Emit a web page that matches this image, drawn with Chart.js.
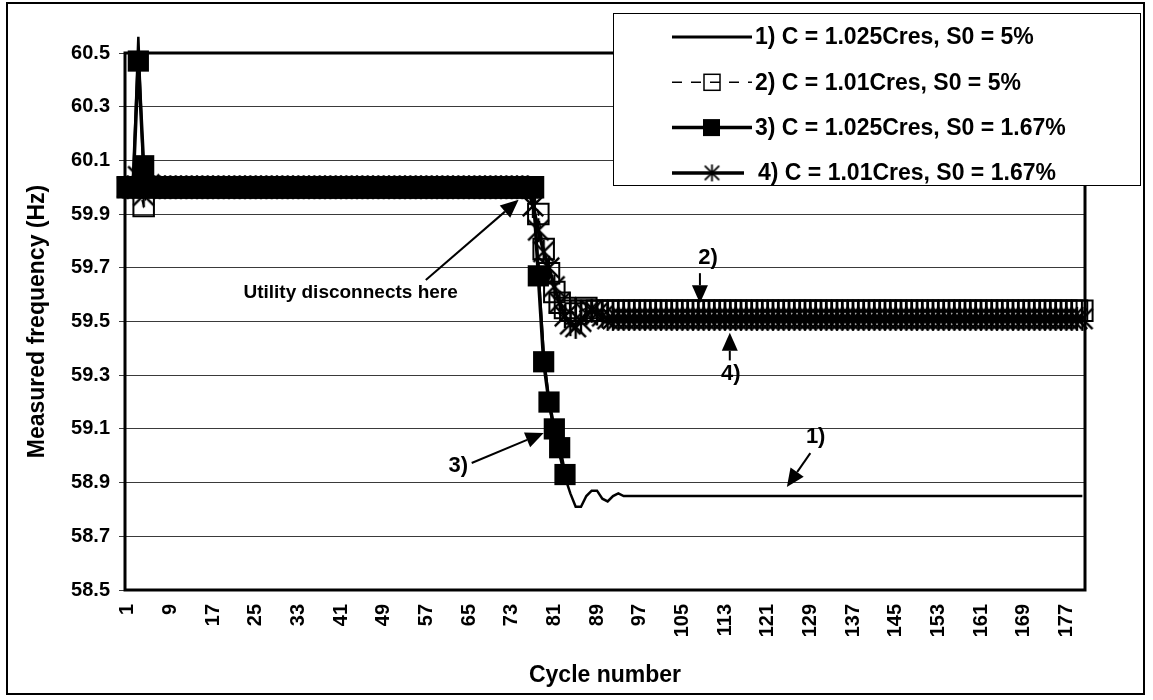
<!DOCTYPE html>
<html>
<head>
<meta charset="utf-8">
<script src="https://cdn.jsdelivr.net/npm/chart.js@4.4.1/dist/chart.umd.min.js"></script>
<style>
  html, body { margin: 0; padding: 0; background: #fff; }
  #wrap { width: 1153px; height: 700px; }
</style>
</head>
<body>
<div id="wrap"><canvas id="chart" width="1153" height="700"></canvas></div>
<script>
// ---------------------------------------------------------------------------
// Data
// ---------------------------------------------------------------------------
const seriesNames = [
  '1) C = 1.025Cres, S0 = 5%',
  '2) C = 1.01Cres, S0 = 5%',
  '3) C = 1.025Cres, S0 = 1.67%',
  '4) C = 1.01Cres, S0 = 1.67%',
];

const freq1 = [
  60, 60, 60.56, 60.02, 60, 60, 60, 60, 60, 60,
  60, 60, 60, 60, 60, 60, 60, 60, 60, 60,
  60, 60, 60, 60, 60, 60, 60, 60, 60, 60,
  60, 60, 60, 60, 60, 60, 60, 60, 60, 60,
  60, 60, 60, 60, 60, 60, 60, 60, 60, 60,
  60, 60, 60, 60, 60, 60, 60, 60, 60, 60,
  60, 60, 60, 60, 60, 60, 60, 60, 60, 60,
  60, 60, 60, 60, 60, 60, 60, 59.70, 59.38, 59.20,
  59.08, 59.00, 58.92, 58.86, 58.81, 58.81, 58.85, 58.87, 58.87, 58.84,
  58.83, 58.85, 58.86, 58.85, 58.85, 58.85, 58.85, 58.85, 58.85, 58.85,
  58.85, 58.85, 58.85, 58.85, 58.85, 58.85, 58.85, 58.85, 58.85, 58.85,
  58.85, 58.85, 58.85, 58.85, 58.85, 58.85, 58.85, 58.85, 58.85, 58.85,
  58.85, 58.85, 58.85, 58.85, 58.85, 58.85, 58.85, 58.85, 58.85, 58.85,
  58.85, 58.85, 58.85, 58.85, 58.85, 58.85, 58.85, 58.85, 58.85, 58.85,
  58.85, 58.85, 58.85, 58.85, 58.85, 58.85, 58.85, 58.85, 58.85, 58.85,
  58.85, 58.85, 58.85, 58.85, 58.85, 58.85, 58.85, 58.85, 58.85, 58.85,
  58.85, 58.85, 58.85, 58.85, 58.85, 58.85, 58.85, 58.85, 58.85, 58.85,
  58.85, 58.85, 58.85, 58.85, 58.85, 58.85, 58.85, 58.85, 58.85, 58.85,
];

const freq2 = [
  60, 60, 60, 59.93, 60, 60, 60, 60, 60, 60,
  60, 60, 60, 60, 60, 60, 60, 60, 60, 60,
  60, 60, 60, 60, 60, 60, 60, 60, 60, 60,
  60, 60, 60, 60, 60, 60, 60, 60, 60, 60,
  60, 60, 60, 60, 60, 60, 60, 60, 60, 60,
  60, 60, 60, 60, 60, 60, 60, 60, 60, 60,
  60, 60, 60, 60, 60, 60, 60, 60, 60, 60,
  60, 60, 60, 60, 60, 60, 60, 59.90, 59.77, 59.68,
  59.61, 59.57, 59.55, 59.54, 59.53, 59.54, 59.55, 59.54, 59.54, 59.54,
  59.54, 59.54, 59.54, 59.54, 59.54, 59.54, 59.54, 59.54, 59.54, 59.54,
  59.54, 59.54, 59.54, 59.54, 59.54, 59.54, 59.54, 59.54, 59.54, 59.54,
  59.54, 59.54, 59.54, 59.54, 59.54, 59.54, 59.54, 59.54, 59.54, 59.54,
  59.54, 59.54, 59.54, 59.54, 59.54, 59.54, 59.54, 59.54, 59.54, 59.54,
  59.54, 59.54, 59.54, 59.54, 59.54, 59.54, 59.54, 59.54, 59.54, 59.54,
  59.54, 59.54, 59.54, 59.54, 59.54, 59.54, 59.54, 59.54, 59.54, 59.54,
  59.54, 59.54, 59.54, 59.54, 59.54, 59.54, 59.54, 59.54, 59.54, 59.54,
  59.54, 59.54, 59.54, 59.54, 59.54, 59.54, 59.54, 59.54, 59.54, 59.54,
  59.54, 59.54, 59.54, 59.54, 59.54, 59.54, 59.54, 59.54, 59.54, 59.54,
];

// series 3 stops after cycle 83
const freq3 = [
  60, 60, 60.47, 60.08, 60, 60, 60, 60, 60, 60,
  60, 60, 60, 60, 60, 60, 60, 60, 60, 60,
  60, 60, 60, 60, 60, 60, 60, 60, 60, 60,
  60, 60, 60, 60, 60, 60, 60, 60, 60, 60,
  60, 60, 60, 60, 60, 60, 60, 60, 60, 60,
  60, 60, 60, 60, 60, 60, 60, 60, 60, 60,
  60, 60, 60, 60, 60, 60, 60, 60, 60, 60,
  60, 60, 60, 60, 60, 60, 60, 59.67, 59.35, 59.20,
  59.10, 59.03, 58.93,
];

const freq4 = [
  60, 60, 60.04, 59.97, 60.01, 60, 60, 60, 60, 60,
  60, 60, 60, 60, 60, 60, 60, 60, 60, 60,
  60, 60, 60, 60, 60, 60, 60, 60, 60, 60,
  60, 60, 60, 60, 60, 60, 60, 60, 60, 60,
  60, 60, 60, 60, 60, 60, 60, 60, 60, 60,
  60, 60, 60, 60, 60, 60, 60, 60, 60, 60,
  60, 60, 60, 60, 60, 60, 60, 60, 60, 60,
  60, 60, 60, 60, 60, 60, 59.93, 59.84, 59.76, 59.70,
  59.63, 59.57, 59.52, 59.49, 59.48, 59.50, 59.53, 59.54, 59.53, 59.52,
  59.51, 59.51, 59.51, 59.51, 59.51, 59.51, 59.51, 59.51, 59.51, 59.51,
  59.51, 59.51, 59.51, 59.51, 59.51, 59.51, 59.51, 59.51, 59.51, 59.51,
  59.51, 59.51, 59.51, 59.51, 59.51, 59.51, 59.51, 59.51, 59.51, 59.51,
  59.51, 59.51, 59.51, 59.51, 59.51, 59.51, 59.51, 59.51, 59.51, 59.51,
  59.51, 59.51, 59.51, 59.51, 59.51, 59.51, 59.51, 59.51, 59.51, 59.51,
  59.51, 59.51, 59.51, 59.51, 59.51, 59.51, 59.51, 59.51, 59.51, 59.51,
  59.51, 59.51, 59.51, 59.51, 59.51, 59.51, 59.51, 59.51, 59.51, 59.51,
  59.51, 59.51, 59.51, 59.51, 59.51, 59.51, 59.51, 59.51, 59.51, 59.51,
  59.51, 59.51, 59.51, 59.51, 59.51, 59.51, 59.51, 59.51, 59.51, 59.51,
];

// cycle numbers 1..180 (one per sample)
const cycles = freq1.map((_, i) => String(i + 1));

const xTickLabels = ['1', '9', '17', '25', '33', '41', '49', '57', '65', '73', '81', '89',
  '97', '105', '113', '121', '129', '137', '145', '153', '161', '169', '177'];

// callouts: text position, arrow tail, arrow tip — in [cycle, Hz]
const callouts = [
  { text: 'Utility disconnects here', at: [42.8, 59.606], from: [56.9, 59.655], to: [74.3, 59.953], size: 19 },
  { text: '2)', at: [109.8, 59.735], from: [108.3, 59.68], to: [108.3, 59.568], size: 22 },
  { text: '4)', at: [114.1, 59.305], from: [113.9, 59.355], to: [113.9, 59.458], size: 22 },
  { text: '1)', at: [130.0, 59.07], from: [129.0, 59.01], to: [124.6, 58.884], size: 22 },
  { text: '3)', at: [63.0, 58.962], from: [65.5, 58.973], to: [79.0, 59.085], size: 22 },
];

// ---------------------------------------------------------------------------
// Markers
// ---------------------------------------------------------------------------
const FONT = '"Liberation Sans", Arial, sans-serif';

function starMarker(size, lw) {
  const c = document.createElement('canvas');
  c.width = size; c.height = size;
  const g = c.getContext('2d');
  const m = size / 2, r = size / 2 - 1, d = r * 0.85;
  g.strokeStyle = '#000';
  g.lineWidth = lw;
  g.beginPath();
  g.moveTo(m - d, m - d); g.lineTo(m + d, m + d);
  g.moveTo(m + d, m - d); g.lineTo(m - d, m + d);
  g.moveTo(m, m - r);     g.lineTo(m, m + r);
  g.stroke();
  return c;
}

const starBig = starMarker(26, 2.4);
const starSmall = starMarker(19, 1.8);

// ---------------------------------------------------------------------------
// Plugin: white page, plot frame, outer frame, legend box and callouts
// ---------------------------------------------------------------------------
const decorPlugin = {
  id: 'decor',
  beforeDraw(chart) {
    const ctx = chart.ctx;
    ctx.save();
    ctx.fillStyle = '#fff';
    ctx.fillRect(0, 0, chart.width, chart.height);
    ctx.restore();
  },
  beforeDatasetsDraw(chart) {
    const { ctx, chartArea: a } = chart;
    ctx.save();
    ctx.strokeStyle = '#000';
    ctx.lineWidth = 3;
    ctx.strokeRect(a.left, a.top, a.right - a.left, a.bottom - a.top);
    ctx.restore();
  },
  afterDraw(chart) {
    const ctx = chart.ctx;
    const xs = chart.scales.x, ys = chart.scales.y;
    const px = c => xs.getPixelForValue(c - 1);
    const py = v => ys.getPixelForValue(v);

    ctx.save();
    // outer frame
    ctx.strokeStyle = '#000';
    ctx.lineWidth = 2;
    ctx.strokeRect(7, 3, 1137, 691);

    // legend box
    ctx.fillStyle = '#fff';
    ctx.fillRect(613, 13, 527, 172);
    ctx.lineWidth = 1;
    ctx.strokeRect(613.5, 13.5, 527, 172);

    chart.data.datasets.forEach((ds, i) => {
      const y = 37 + i * 45.3;
      ctx.strokeStyle = '#000';
      ctx.lineWidth = i === 0 ? 3 : ds.borderWidth;
      ctx.setLineDash(i === 1 ? [10, 9] : []);
      ctx.beginPath();
      ctx.moveTo(672, y);
      ctx.lineTo(i === 3 ? 744 : 752, y);
      ctx.stroke();
      ctx.setLineDash([]);
      if (i === 1) {
        ctx.lineWidth = 1.5;
        ctx.strokeRect(704, y - 8, 16, 16);
      } else if (i === 2) {
        ctx.fillStyle = '#000';
        ctx.fillRect(703, y - 8.5, 17, 17);
      } else if (i === 3) {
        ctx.drawImage(starSmall, 712 - 9.5, y - 9.5);
      }
      ctx.fillStyle = '#000';
      ctx.font = 'bold 23px ' + FONT;
      ctx.textAlign = 'left';
      ctx.textBaseline = 'middle';
      ctx.fillText(ds.label, i === 3 ? 758 : 755, y + 1);
    });

    // callouts
    callouts.forEach(n => {
      const tx = px(n.at[0]), ty = py(n.at[1]);
      ctx.font = 'bold ' + n.size + 'px ' + FONT;
      ctx.fillStyle = '#000';
      ctx.textAlign = 'center';
      ctx.textBaseline = 'middle';
      ctx.fillText(n.text, tx, ty);

      const x0 = px(n.from[0]), y0 = py(n.from[1]);
      const x1 = px(n.to[0]), y1 = py(n.to[1]);
      const ang = Math.atan2(y1 - y0, x1 - x0);
      const hl = 18, hw = 8;
      const bx = x1 - hl * Math.cos(ang), by = y1 - hl * Math.sin(ang);
      ctx.strokeStyle = '#000';
      ctx.lineWidth = 2;
      ctx.beginPath();
      ctx.moveTo(x0, y0);
      ctx.lineTo(bx, by);
      ctx.stroke();
      ctx.beginPath();
      ctx.moveTo(x1, y1);
      ctx.lineTo(bx + hw * Math.sin(ang), by - hw * Math.cos(ang));
      ctx.lineTo(bx - hw * Math.sin(ang), by + hw * Math.cos(ang));
      ctx.closePath();
      ctx.fill();
    });
    ctx.restore();
  },
};

// ---------------------------------------------------------------------------
// Chart
// ---------------------------------------------------------------------------
Chart.defaults.font.family = FONT;
Chart.defaults.font.weight = 'bold';
Chart.defaults.color = '#000';

new Chart(document.getElementById('chart'), {
  type: 'line',
  data: {
    labels: cycles,
    datasets: [
      {
        label: seriesNames[0], data: freq1, order: 4, clip: false,
        borderColor: '#000', borderWidth: 2.5, pointRadius: 0, tension: 0,
      },
      {
        label: seriesNames[1], data: freq2, order: 3, clip: false,
        borderColor: '#000', borderWidth: 1.5, borderDash: [7, 5],
        pointStyle: 'rect', pointRadius: 14.5, pointBorderWidth: 2,
        pointBorderColor: '#000', pointBackgroundColor: 'rgba(0,0,0,0)', tension: 0,
      },
      {
        label: seriesNames[2], data: freq3, order: 2, clip: false,
        borderColor: '#000', borderWidth: 3.5,
        pointStyle: 'rect', pointRadius: 15, pointBorderWidth: 0,
        pointBackgroundColor: '#000', pointBorderColor: '#000', tension: 0,
      },
      {
        label: seriesNames[3], data: freq4, order: 1, clip: false,
        borderColor: '#000', borderWidth: 3.5,
        pointStyle: starBig, pointRadius: 13, tension: 0,
      },
    ],
  },
  options: {
    responsive: false,
    animation: false,
    events: [],
    layout: { padding: { left: 0, right: 68, top: 53, bottom: 0 } },
    plugins: { legend: { display: false }, tooltip: { enabled: false } },
    scales: {
      x: {
        offset: true,
        grid: { display: false, drawTicks: false },
        border: { display: false },
        ticks: {
          autoSkip: false, minRotation: 90, maxRotation: 90, padding: 14,
          font: { size: 20, weight: 'bold' },
          callback(value, index) {
            const lab = cycles[index];
            return xTickLabels.includes(lab) ? lab : '';
          },
        },
        title: {
          display: true, text: 'Cycle number',
          font: { size: 23, weight: 'bold' }, padding: { top: 0, bottom: 11 },
        },
        afterFit(scale) { scale.height = 110; },
      },
      y: {
        min: 58.5, max: 60.5,
        grid: { color: '#3a3a3a', lineWidth: 1, tickLength: 6 },
        border: { display: false },
        ticks: {
          stepSize: 0.2, padding: 9,
          font: { size: 20, weight: 'bold' },
          callback: v => v.toFixed(1),
        },
        title: {
          display: true, text: 'Measured frequency (Hz)',
          font: { size: 23, weight: 'bold' }, padding: { top: 24, bottom: 0 },
        },
        afterFit(scale) { scale.width = 125; },
      },
    },
  },
  plugins: [decorPlugin],
});
</script>
</body>
</html>
